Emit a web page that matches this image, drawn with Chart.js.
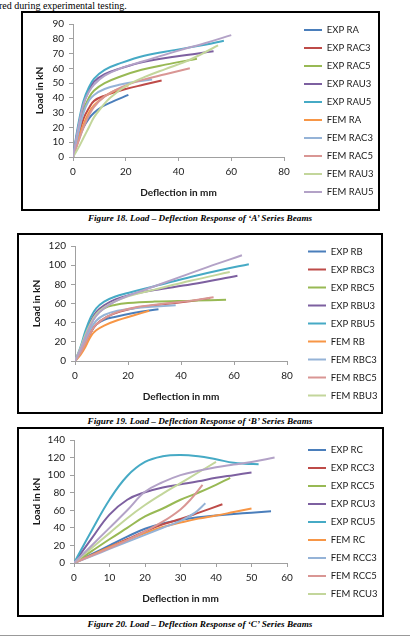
<!DOCTYPE html>
<html>
<head>
<meta charset="utf-8">
<script src="https://cdn.jsdelivr.net/npm/chart.js@4.4.0/dist/chart.umd.min.js"></script>
<style>
  html, body { margin: 0; padding: 0; background: #fff; }
  body { width: 410px; height: 639px; position: relative; overflow: hidden; font-family: "Liberation Serif", serif; }
  .top-text { position: absolute; left: -1px; top: 0px; font-size: 10px; line-height: 12px; color: #000; }
  .box { position: absolute; border: 2px solid #000; box-sizing: border-box; }
  .box canvas { position: absolute; left: 0; top: 0; }
  .caption { position: absolute; left: 0; width: 400px; text-align: center; font-weight: bold; font-style: italic; font-size: 9.2px; line-height: 12px; }
  .rule { position: absolute; left: 0; width: 410px; top: 635px; border-top: 1px solid #999; }
</style>
</head>
<body>
<div class="top-text">red during experimental testing.</div>

<div class="box" style="left:21px; top:11px; width:359px; height:200px;"><canvas id="chartA" width="355" height="196"></canvas></div>
<div class="caption" style="top:212px;">Figure 18. Load – Deflection Response of ‘A’ Series Beams</div>

<div class="box" style="left:17px; top:233px; width:366px; height:181px;"><canvas id="chartB" width="362" height="177"></canvas></div>
<div class="caption" style="top:415px;">Figure 19. Load – Deflection Response of ‘B’ Series Beams</div>

<div class="box" style="left:17px; top:427px; width:367px; height:190px;"><canvas id="chartC" width="363" height="186"></canvas></div>
<div class="caption" style="top:618px;">Figure 20. Load – Deflection Response of ‘C’ Series Beams</div>
<div class="rule"></div>

<script>
// --- DATA: [deflection mm, load kN] ---

// 'A' series
const namesA = ['EXP RA', 'EXP RAC3', 'EXP RAC5', 'EXP RAU3', 'EXP RAU5', 'FEM RA', 'FEM RAC3', 'FEM RAC5', 'FEM RAU3', 'FEM RAU5'];
const expRA   = [[0,0],[2,11],[4,20],[6,26],[8,30],[11,34],[15,37.5],[21,42]];
const expRAC3 = [[0,0],[2,14],[4,26],[6,33],[8,38],[12,41.5],[20,46],[27,49],[33.6,51.8]];
const expRAC5 = [[0,0],[2,18],[4,32],[6,40],[8,45],[12,50],[18,54.5],[26,59],[35,62.5],[47,66.5]];
const expRAU3 = [[0,0],[2,20],[4,36],[6,45],[8,51],[12,56],[18,60],[27,64.5],[39,68],[53.3,71.5]];
const expRAU5 = [[0,0],[2,22],[4,38],[6,47],[8,53],[12,59],[18,63.5],[27,68.5],[39,72.5],[50,76],[57.2,78.7]];
const femRA   = [[0,0],[2,12],[4,22],[6,30],[8,35],[12,41],[16,45],[21,48.5]];
const femRAC3 = [[0,0],[2,16],[4,30],[6,38],[8,42],[12,46],[18,49],[24,51],[30,52.5]];
const femRAC5 = [[0,0],[2,10],[4,20],[6,28],[8,34],[12,41],[18,47],[26,52],[35,56],[44.3,60]];
const femRAU3 = [[0,0],[2,6],[4,13],[6,20],[8,27],[11,34],[14,40],[20,48],[27,54],[35,59.5],[42,64],[48,69],[55,75.5]];
const femRAU5 = [[0,0],[2,20],[4,36],[6,44],[8,49],[12,55],[18,60],[27,65],[39,71.5],[50,77],[60,82.5]];

// 'B' series
const namesB = ['EXP RB', 'EXP RBC3', 'EXP RBC5', 'EXP RBU3', 'EXP RBU5', 'FEM RB', 'FEM RBC3', 'FEM RBC5', 'FEM RBU3', 'FEM RBU5'];
const expRB   = [[0,0],[2,8],[4,18],[6,30],[8,38],[11,43],[15,46],[22,50],[31.5,54]];
const expRBC3 = [[0,0],[2,8],[4,19],[6,30],[8,38],[12,46],[17,51.5],[24,56],[34,59.5],[44,62.5],[51,65.5]];
const expRBC5 = [[0,0],[2,10],[4,24],[6,38],[8,48],[11,55],[15,58.5],[20,60.5],[30,62],[45,63],[57,64]];
const expRBU3 = [[0,0],[2,12],[4,28],[6,42],[8,51],[11,58],[15,64],[20,68.5],[30,74],[44,80],[61.3,89]];
const expRBU5 = [[0,0],[2,14],[4,32],[6,46],[8,55],[11,62],[15,67],[20,71],[30,78],[44,88],[55,95],[65.6,101]];
const femRB   = [[0,0],[2,6],[4,15],[6,26],[8,32],[11,37],[16,42.5],[22,47.5],[28,52.5]];
const femRBC3 = [[0,0],[2,9],[4,22],[6,34],[8,42],[11,48],[16,52.5],[24,55.5],[32,57],[38,58.2]];
const femRBC5 = [[0,0],[2,8],[4,19],[6,30],[8,38],[12,46],[17,52],[24,56.5],[34,60],[44,63],[52.3,66.5]];
const femRBU3 = [[0,0],[2,13],[4,28],[6,40],[8,49],[11,56],[15,62],[20,67.5],[30,74.5],[44,84],[58.4,92.8]];
const femRBU5 = [[0,0],[2,12],[4,26],[6,38],[8,47],[11,55],[15,62],[20,68],[30,78],[40,88],[50,98],[63,110.3]];

// 'C' series
const namesC = ['EXP RC', 'EXP RCC3', 'EXP RCC5', 'EXP RCU3', 'EXP RCU5', 'FEM RC', 'FEM RCC3', 'FEM RCC5', 'FEM RCU3', 'FEM RCU5'];
const expRC   = [[0,0],[5,10],[10,20],[15,30],[20,39],[25,45],[30,49],[35,52],[40,54],[45,55.8],[50,57.3],[55.5,59]];
const expRCC3 = [[0,0],[5,9],[10,18],[15,27],[20,36],[25,44],[30,50],[35,57],[41.8,66.8]];
const expRCC5 = [[0,0],[5,13.5],[10,27],[15,40],[20,53],[25,62],[30,72],[35,80],[40,89],[44,97]];
const expRCU3 = [[0,0],[5,28],[10,55],[15,72],[20,80.5],[25,86],[30,89.5],[35,93],[40,97],[45,100],[50,103]];
const expRCU5 = [[0,0],[5,37],[10,72],[15,99],[20,115],[25,121.5],[30,123],[35,121.5],[40,118],[45,114],[48,113],[52,112.5]];
const femRC   = [[0,0],[5,9],[10,18],[15,26],[20,34],[25,41],[30,46],[35,50.5],[40,54],[45,58],[50,62]];
const femRCC3 = [[0,0],[5,8],[10,16],[15,24],[20,32],[25,40],[30,48],[34,57],[37,68]];
const femRCC5 = [[0,0],[5,8.5],[10,17],[15,26],[20,36],[25,47],[30,61],[33,73],[36.2,88.8]];
const femRCU3 = [[0,0],[5,17],[10,34],[15,51],[20,66],[25,79],[30,91],[35,103],[40,115]];
const femRCU5 = [[0,0],[5,20],[10,40],[15,60],[20,81],[25,92],[30,100],[35,105],[40,109],[45,112],[50,115],[56.5,120]];

// --- STYLE ---
const COLORS = ['#4A7EBB', '#BE4B48', '#98B954', '#7D60A0', '#46AAC5', '#F79646', '#95B3D7', '#D99694', '#C3D69B', '#B3A2C7'];
const FONT = "Lato, sans-serif";
const TEXT = '#1a1a1a';
const AXIS = '#a0a0a0';
const LEG_FS = 9.5, LEG_PAD = 8.5, LEG_BOX = 18;

Chart.defaults.font.family = FONT;
Chart.defaults.color = TEXT;

function textWidth(txt, font) {
    const c = document.createElement('canvas').getContext('2d');
    c.font = font;
    return c.measureText(txt).width;
}

/**
 * Builds one load-deflection chart. `box` holds the pixel layout of the
 * plot inside the canvas so it lands where the figure has it.
 */
function makeChart(id, names, series, xMax, xStep, yMax, yStep, legendCount, box) {
    const canvas = document.getElementById(id);
    const W = canvas.width, H = canvas.height;

    const shown = names.slice(0, legendCount);
    const maxText = Math.max(...shown.map(n => textWidth(n, `${LEG_FS}px ${FONT}`)));
    // Chart.js: padding + box + fontSize/2 + text, plus 10 of its own
    const legendWidth = LEG_PAD + LEG_BOX + LEG_FS / 2 + maxText + 10;
    const gap = box.legendStart - LEG_PAD - box.plotRight;
    const padRight = W - box.plotRight - gap - legendWidth;

    const datasets = series.map((pts, i) => ({
        label: names[i],
        data: pts.map(([x, y]) => ({ x, y })),
        borderColor: COLORS[i],
        backgroundColor: COLORS[i],
        borderWidth: 2,
        pointRadius: 0,
        showLine: true,
        tension: 0.4,
        fill: false,
        order: series.length - i   // later series on top, like the original
    }));

    return new Chart(canvas, {
        type: 'scatter',
        data: { datasets },
        options: {
            responsive: false,
            animation: false,
            events: [],
            layout: { padding: { left: 0, top: 0, right: padRight, bottom: 0 } },
            plugins: {
                tooltip: { enabled: false },
                legend: {
                    position: 'right',
                    maxWidth: 200,
                    labels: {
                        usePointStyle: true,
                        pointStyle: 'line',
                        pointStyleWidth: LEG_BOX,
                        boxWidth: LEG_BOX,
                        padding: LEG_PAD,
                        font: { size: LEG_FS },
                        color: TEXT,
                        filter: item => item.datasetIndex < legendCount,
                        sort: (a, b) => a.datasetIndex - b.datasetIndex
                    }
                }
            },
            scales: {
                x: {
                    type: 'linear', min: 0, max: xMax,
                    ticks: { stepSize: xStep, autoSkip: false, padding: 5, font: { size: 10 }, color: TEXT },
                    grid: { drawOnChartArea: false, tickLength: 4, color: AXIS },
                    border: { color: AXIS },
                    title: { display: true, text: 'Deflection in mm', color: TEXT, font: { size: 10, weight: 'bold' },
                             padding: { top: 0, bottom: H - box.xTitleY - 6 } },
                    afterFit: s => { s.height = H - box.plotBottom; }
                },
                y: {
                    type: 'linear', min: 0, max: yMax,
                    ticks: { stepSize: yStep, autoSkip: false, padding: 5, font: { size: 10 }, color: TEXT },
                    grid: { drawOnChartArea: false, tickLength: 4, color: AXIS },
                    border: { color: AXIS },
                    title: { display: true, text: 'Load in kN', color: TEXT, font: { size: 10, weight: 'bold' },
                             padding: { top: box.yTitleX - 6, bottom: 0 } },
                    afterFit: s => { s.width = box.plotLeft; }
                },
                // empty spacers: above the plot, and between plot and legend
                top: {
                    type: 'linear', position: 'top', display: true,
                    ticks: { display: false }, grid: { display: false }, border: { display: false },
                    afterFit: s => { s.height = box.plotTop; }
                },
                gap: {
                    type: 'linear', position: 'right', display: true,
                    ticks: { display: false }, grid: { display: false }, border: { display: false },
                    afterFit: s => { s.width = gap; }
                }
            }
        }
    });
}

makeChart('chartA', namesA,
    [expRA, expRAC3, expRAC5, expRAU3, expRAU5, femRA, femRAC3, femRAC5, femRAU3, femRAU5],
    80, 20, 90, 10, 10,
    { plotLeft: 50, plotRight: 261, plotTop: 8.5, plotBottom: 144, xTitleY: 180, yTitleX: 17, legendStart: 281 });

makeChart('chartB', namesB,
    [expRB, expRBC3, expRBC5, expRBU3, expRBU5, femRB, femRBC3, femRBC5, femRBU3, femRBU5],
    80, 20, 120, 20, 9,
    { plotLeft: 56, plotRight: 268, plotTop: 8.3, plotBottom: 126, xTitleY: 162, yTitleX: 18, legendStart: 289 });

makeChart('chartC', namesC,
    [expRC, expRCC3, expRCC5, expRCU3, expRCU5, femRC, femRCC3, femRCC5, femRCU3, femRCU5],
    60, 10, 140, 20, 9,
    { plotLeft: 55, plotRight: 268, plotTop: 7, plotBottom: 134, xTitleY: 170, yTitleX: 18, legendStart: 289 });
</script>
</body>
</html>
